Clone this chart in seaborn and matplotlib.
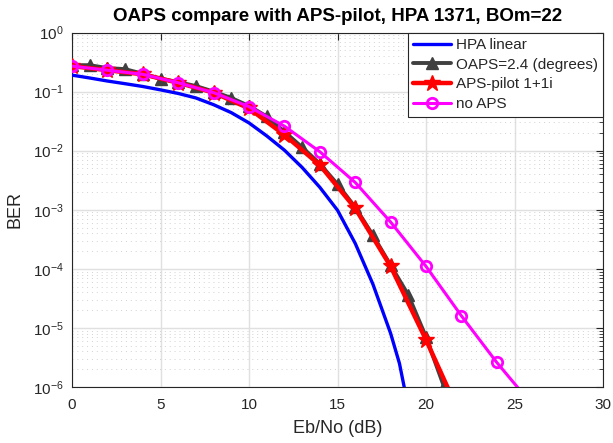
import numpy as np
import pandas as pd
import matplotlib
matplotlib.use("Agg")
import matplotlib.pyplot as plt
import seaborn as sns
from matplotlib.ticker import LogLocator, NullFormatter

# ---- data ----
hpa_x = [0, 1, 2, 3, 4, 5, 6, 7, 8, 9, 10, 11, 12, 13, 14, 15, 16, 17, 18, 18.5, 19]
hpa_ber = [0.19, 0.17, 0.151, 0.136, 0.122, 0.107, 0.093, 0.078, 0.060, 0.044,
           0.0295, 0.0178, 0.0102, 5.2e-3, 2.4e-3, 9.8e-4, 2.7e-4, 5.5e-5,
           8.1e-6, 2.5e-6, 4.5e-7]

oaps_x = list(range(0, 22))
oaps_ber = [0.28, 0.28, 0.25, 0.24, 0.20, 0.165, 0.145, 0.124, 0.10, 0.078, 0.057,
            0.038, 0.021, 0.0114, 0.0060, 2.7e-3, 1.1e-3, 3.7e-4, 1.15e-4, 3.6e-5,
            7.0e-6, 1.05e-6]

pilot_x = [0, 2, 4, 6, 8, 10, 12, 14, 16, 18, 20, 22]
pilot_ber = [0.27, 0.23, 0.196, 0.141, 0.096, 0.052, 0.0185, 5.7e-3, 1.06e-3,
             1.1e-4, 6.3e-6, 3.0e-7]

noaps_x = [0, 2, 4, 6, 8, 10, 12, 14, 16, 18, 20, 22, 24, 26]
noaps_ber = [0.27, 0.23, 0.196, 0.141, 0.096, 0.0556, 0.026, 0.0096, 2.9e-3,
             6.2e-4, 1.1e-4, 1.6e-5, 2.6e-6, 5.0e-7]

labels = ["HPA linear", "OAPS=2.4 (degrees)", "APS-pilot 1+1i", "no APS"]
title = "OAPS compare with APS-pilot, HPA 1371, BOm=22"
xlabel = "Eb/No (dB)"
ylabel = "BER"
xticks = [0, 5, 10, 15, 20, 25, 30]

# ---- style ----
sns.set_style("white")
plt.rcParams["font.family"] = ["Liberation Sans", "DejaVu Sans"]
plt.rcParams["mathtext.fontset"] = "custom"
plt.rcParams["mathtext.rm"] = "Liberation Sans"
plt.rcParams["mathtext.it"] = "Liberation Sans:italic"
plt.rcParams["mathtext.bf"] = "Liberation Sans:bold"

fig = plt.figure(figsize=(6.13, 4.43), dpi=100)
ax = fig.add_axes([0.1175, 0.1264, 0.8662, 0.8002])

df_hpa = pd.DataFrame({"x": hpa_x, "y": hpa_ber})
df_oaps = pd.DataFrame({"x": oaps_x, "y": oaps_ber})
df_pilot = pd.DataFrame({"x": pilot_x, "y": pilot_ber})
df_noaps = pd.DataFrame({"x": noaps_x, "y": noaps_ber})

sns.lineplot(data=df_hpa, x="x", y="y", ax=ax, color="#0000ff", lw=2.4,
             label=labels[0], zorder=3)
sns.lineplot(data=df_oaps, x="x", y="y", ax=ax, color="#404040", lw=2.8,
             marker="^", markersize=8.5, markerfacecolor="#404040",
             markeredgecolor="#404040", markeredgewidth=1, label=labels[1], zorder=4)
sns.lineplot(data=df_pilot, x="x", y="y", ax=ax, color="#ff0000", lw=3.2,
             marker="*", markersize=12, markerfacecolor="#ff0000",
             markeredgecolor="#ff0000", markeredgewidth=1, label=labels[2], zorder=5)
sns.lineplot(data=df_noaps, x="x", y="y", ax=ax, color="#ff00ff", lw=2.2,
             marker="o", markersize=7.5, markerfacecolor="none",
             markeredgecolor="#ff00ff", markeredgewidth=2, label=labels[3], zorder=6)

ax.set_yscale("log")
ax.set_xlim(0, 30)
ax.set_ylim(1e-6, 1)
ax.set_xticks(xticks)
ax.yaxis.set_major_locator(LogLocator(base=10, numticks=10))
ax.yaxis.set_minor_locator(LogLocator(base=10, subs=np.arange(2, 10), numticks=100))
ax.yaxis.set_minor_formatter(NullFormatter())

ax.grid(True, which="major", color="#e0e0e0", lw=1.0, ls="-")
ax.grid(True, which="minor", axis="y", color="#d2d2d2", lw=0.7, ls=(0, (1, 4)))
ax.set_axisbelow(True)

ax.tick_params(which="both", direction="in", top=True, right=True,
               colors="#262626", labelsize=11)
ax.tick_params(which="major", length=5, width=0.8)
ax.tick_params(which="minor", length=3, width=0.6)
ax.tick_params(axis="x", which="major", pad=8)
ax.tick_params(axis="y", which="major", pad=6)
for s in ax.spines.values():
    s.set_color("#262626")
    s.set_linewidth(0.8)

ax.set_xlabel(xlabel, fontsize=13, color="#262626", labelpad=6)
ax.set_ylabel(ylabel, fontsize=13, color="#262626", labelpad=7)
ax.set_title(title, fontsize=13.5, fontweight="bold", color="black", pad=8)

leg = ax.legend(loc="upper right", fontsize=11, frameon=True, fancybox=False,
                framealpha=1, edgecolor="#262626", borderaxespad=0,
                handlelength=2.5, handletextpad=0.3, labelspacing=0.38,
                borderpad=0.35)
leg.get_frame().set_linewidth(0.8)

fig.savefig("out.png", dpi=100)
